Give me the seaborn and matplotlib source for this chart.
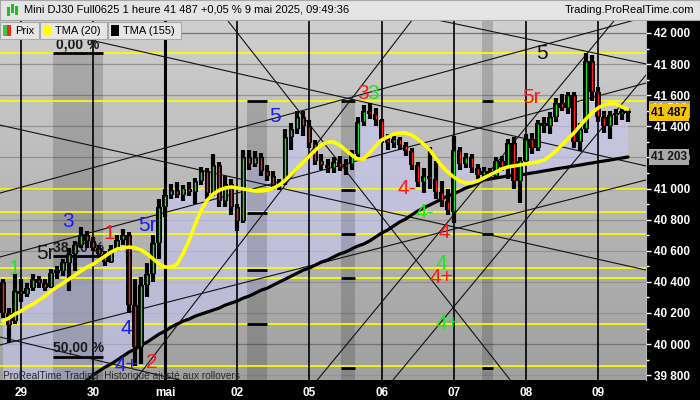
import numpy as np
import matplotlib
matplotlib.use("Agg")
import matplotlib.pyplot as plt
from matplotlib.patches import Rectangle
from matplotlib.colors import LinearSegmentedColormap
from matplotlib.transforms import blended_transform_factory
import seaborn as sns

# 2-hour bars, bar 0 = start of 29 April
bars = list(range(-3, 102))
opens = [40400, 40200, 40150, 40340, 40320, 40360, 40420, 40390, 40370, 40460,
         40470, 40520, 40580, 40640, 40700, 40660, 40620, 40580, 40530, 40610,
         40670, 40700, 40250, 39980, 40380, 40450, 40650, 40880, 40960, 40990,
         40960, 41000, 40980, 41050, 41110, 40970, 41150, 40920, 41030, 40880,
         40790, 41200, 41160, 41200, 41110, 41080, 41020, 41040, 41330, 41380,
         41460, 41400, 41290, 41180, 41150, 41130, 41170, 41140, 41160, 41220,
         41430, 41500, 41480, 41440, 41320, 41290, 41320, 41280, 41240, 41150,
         41040, 41080, 41060, 40980, 40920, 40850, 41250, 41160, 41200, 41130,
         41090, 41110, 41080, 41180, 41140, 41290, 41050, 41180, 41320, 41260,
         41420, 41400, 41460, 41550, 41520, 41600, 41300, 41380, 41820, 41620,
         41460, 41400, 41470, 41480, 41500]
highs = [40420, 40230, 40450, 40420, 40390, 40450, 40440, 40420, 40480, 40500,
         40550, 40620, 40660, 40750, 40730, 40690, 40640, 40600, 40640, 40700,
         40740, 40720, 40420, 40430, 40520, 40700, 40930, 41000, 41030, 41040,
         41020, 41040, 41070, 41140, 41130, 41220, 41170, 41080, 41060, 40900,
         41250, 41250, 41240, 41230, 41150, 41110, 41060, 41380, 41420, 41500,
         41500, 41440, 41310, 41220, 41190, 41200, 41210, 41190, 41250, 41460,
         41540, 41550, 41520, 41450, 41350, 41340, 41330, 41300, 41260, 41170,
         41130, 41270, 41180, 41050, 41000, 41340, 41270, 41230, 41220, 41160,
         41140, 41130, 41200, 41210, 41320, 41330, 41200, 41350, 41360, 41440,
         41460, 41490, 41580, 41610, 41620, 41620, 41420, 41870, 41860, 41650,
         41500, 41500, 41510, 41520, 41520]
lows = [40170, 40010, 40130, 40270, 40300, 40340, 40360, 40340, 40360, 40420,
        40440, 40340, 40470, 40620, 40620, 40600, 40560, 40500, 40520, 40600,
        40640, 40200, 39860, 39870, 40300, 40400, 40550, 40820, 40930, 40940,
        40920, 40950, 40900, 41020, 40930, 40950, 40880, 40880, 40830, 40730,
        40780, 41120, 41140, 41080, 41050, 40990, 40990, 41020, 41250, 41350,
        41340, 41260, 41150, 41120, 41100, 41100, 41110, 41090, 41120, 41190,
        41400, 41450, 41400, 41290, 41250, 41260, 41250, 41210, 41120, 41010,
        40970, 41000, 40930, 40880, 40830, 40780, 41120, 41130, 41100, 41060,
        41050, 41060, 41070, 41110, 41060, 41000, 40910, 41170, 41220, 41240,
        41360, 41350, 41430, 41500, 41480, 41260, 41240, 41360, 41560, 41430,
        41360, 41320, 41410, 41440, 41430]
closes = [40200, 40120, 40340, 40320, 40360, 40420, 40390, 40360, 40460, 40470,
          40530, 40580, 40640, 40700, 40660, 40620, 40580, 40530, 40610, 40670,
          40700, 40250, 39980, 40380, 40450, 40650, 40880, 40960, 40990, 40960,
          41000, 40980, 41050, 41110, 40970, 41150, 40920, 41030, 40880, 40790,
          41200, 41160, 41200, 41110, 41080, 41020, 41040, 41330, 41380, 41460,
          41400, 41290, 41180, 41150, 41130, 41170, 41140, 41160, 41220, 41430,
          41500, 41480, 41440, 41320, 41290, 41320, 41280, 41240, 41150, 41040,
          41080, 41060, 40980, 40920, 40860, 41250, 41160, 41200, 41130, 41090,
          41110, 41080, 41180, 41140, 41290, 41050, 41180, 41320, 41260, 41420,
          41400, 41460, 41550, 41520, 41600, 41300, 41380, 41820, 41620, 41460,
          41400, 41470, 41480, 41500, 41487]
tma20 = [40148, 40167, 40193, 40212, 40238, 40257, 40283, 40309, 40341, 40367,
         40392, 40418, 40444, 40470, 40495, 40514, 40540, 40566, 40592, 40611,
         40617, 40624, 40617, 40605, 40579, 40547, 40514, 40495, 40495, 40514,
         40585, 40669, 40772, 40862, 40926, 40965, 40990, 41003, 41010, 41003,
         40997, 40990, 40984, 40984, 40990, 41003, 41023, 41055, 41093, 41132,
         41171, 41209, 41248, 41280, 41299, 41299, 41280, 41248, 41216, 41190,
         41190, 41228, 41273, 41312, 41331, 41350, 41357, 41357, 41344, 41318,
         41286, 41248, 41196, 41145, 41106, 41074, 41048, 41036, 41036, 41048,
         41068, 41087, 41106, 41126, 41139, 41145, 41151, 41158, 41164, 41171,
         41183, 41209, 41241, 41280, 41318, 41357, 41402, 41447, 41486, 41518,
         41537, 41544, 41544, 41524, 41510]
tma155 = [39434, 39460, 39479, 39505, 39531, 39550, 39576, 39602, 39621, 39647,
          39672, 39692, 39717, 39743, 39769, 39801, 39827, 39852, 39872, 39897,
          39923, 39949, 39968, 39994, 40013, 40039, 40065, 40084, 40110, 40129,
          40148, 40161, 40180, 40193, 40206, 40219, 40232, 40251, 40264, 40277,
          40296, 40309, 40328, 40347, 40360, 40380, 40399, 40418, 40438, 40457,
          40476, 40489, 40508, 40528, 40540, 40560, 40579, 40592, 40611, 40630,
          40643, 40663, 40688, 40714, 40733, 40759, 40785, 40804, 40830, 40855,
          40875, 40894, 40913, 40933, 40952, 40965, 40984, 41003, 41016, 41035,
          41055, 41061, 41068, 41074, 41081, 41087, 41087, 41093, 41100, 41106,
          41113, 41119, 41126, 41132, 41138, 41145, 41151, 41158, 41164, 41171,
          41177, 41183, 41190, 41196, 41203]

day_bars = [0, 12, 24, 36, 48, 60, 72, 84, 96]
day_labels = ["29", "30", "mai", "02", "05", "06", "07", "08", "09"]
price_ticks = list(range(39800, 42001, 200))

support_levels = [41870, 41560, 41000, 40850, 40710, 40490, 40425, 40130, 39860]

# time zones: start bar, end bar, top price, and level marks inside each
zone_start = [5.3, 37.6, 53.2, 76.7]
zone_end = [13.6, 40.9, 55.6, 78.5]
zone_top = [41871, 41563, 41563, 42077]
zone_marks = [[41871, 40566, 39917],
              [41563, 40843, 40476, 40129],
              [41563, 40990, 40707, 40424, 39846],
              [41563, 40707, 39846]]

# drawn trend lines: bar_a, price_a, bar_b, price_b
trend_lines = [
    (34.3, 42084, 81.4, 39769),
    (11.5, 41955, 104.0, 41145),
    (-3.5, 41408, 104.0, 40476),
    (-3.5, 40971, 104.0, 42103),
    (19.0, 39769, 65.1, 42084),
    (49.3, 39769, 98.8, 42084),
    (61.9, 39769, 104.0, 41730),
    (69.2, 42084, 104.0, 41801),
    (-3.5, 40560, 104.0, 41678),
    (-3.5, 40045, 29.8, 39737),
    (-3.5, 39994, 104.0, 41055),
]

# wave labels
wave_text = ["1", "5r", "3", "1", "5r", "4", "4+", "2", "5", "3", "3",
             "4-", "4-", "4", "4", "4+", "4+", "5r", "5"]
wave_bar = [-1.2, 4.0, 7.8, 14.6, 21.0, 17.5, 17.6, 21.8, 42.3, 56.9, 58.6,
            64.2, 67.1, 70.5, 70.0, 69.9, 71.0, 85.0, 86.7]
wave_price = [40489, 40580, 40785, 40708, 40765, 40097, 39865, 39884, 41466,
              41608, 41608, 40997, 40849, 40720, 40515, 40431, 40135, 41582, 41871]
GREEN, RED, BLUE, BLACK = "#22e622", "#ff1a1a", "#1a1aff", "#141414"
wave_color = [GREEN, BLACK, BLUE, RED, BLUE, BLUE, BLUE, RED, BLUE, RED, GREEN,
              RED, GREEN, RED, GREEN, RED, GREEN, RED, BLACK]

sns.set_style("white")
plt.rcParams["font.family"] = ["Liberation Sans", "DejaVu Sans"]

fig = plt.figure(figsize=(7, 4), dpi=100)
fig.patch.set_facecolor("black")
ax = fig.add_axes([0, 20 / 400, 646 / 700, 359 / 400])

x0, x1 = -3.5, 104.0
y0, y1 = 39769, 42077

# background gradient
bg = LinearSegmentedColormap.from_list("bg", ["#cfcfcf", "#a0a0a0"])
ax.imshow(np.linspace(0, 1, 256).reshape(-1, 1), cmap=bg, aspect="auto",
          extent=(x0, x1, y0, y1), origin="upper", zorder=0)

for p in price_ticks:
    dark = p % 1000 == 0
    ax.axhline(p, color="#727272" if dark else "#939393", lw=0.9, zorder=1)

xb = np.array(bars)
o, h, l, c = map(np.array, (opens, highs, lows, closes))
t155 = np.array(tma155)

ax.fill_between(xb, c, t155, where=c >= t155, interpolate=True,
                color="#c8c8f4", alpha=0.62, lw=0, zorder=2)

for s, e, top in zip(zone_start, zone_end, zone_top):
    ax.add_patch(Rectangle((s, y0), e - s, top - y0, facecolor="black",
                           alpha=0.16, lw=0, zorder=3))

for lvl in support_levels:
    ax.axhline(lvl, color="#ffff00", lw=1.2, zorder=4)

for d, lab in zip(day_bars, day_labels):
    ax.axvline(d, color="black", lw=2.2 if lab == "mai" else 1.2, zorder=4)

for s, e, marks in zip(zone_start, zone_end, zone_marks):
    ax.hlines(marks, s, e, color="black", lw=2, zorder=5)

for xa, ya, xe, ye in trend_lines:
    ax.plot([xa, xe], [ya, ye], color="#111111", lw=0.8, zorder=5)

ax.text(9.5, 41923, "0,00 %", fontsize=10, fontweight="bold", color="#1a1a1a",
        ha="center", va="center", zorder=6)
ax.text(9.5, 39975, "50,00 %", fontsize=10, fontweight="bold", color="#1a1a1a",
        ha="center", va="center", zorder=6)
ax.text(9.5, 40620, "38,20 %", fontsize=10, fontweight="bold", color="#1a1a1a",
        ha="center", va="center", zorder=6)

sns.lineplot(x=bars, y=tma155, ax=ax, color="black", lw=2.3, zorder=6, legend=False)

# candles: black body and wick with a thin coloured core
ax.vlines(xb, l, h, color="black", lw=3.0, zorder=7)
body_lo = np.minimum(o, c)
body_h = np.maximum(np.abs(c - o), 14)
ax.bar(xb, body_h, bottom=body_lo, width=0.92, color="black", edgecolor="black",
       linewidth=0, zorder=7)
up = c >= o
ax.vlines(xb[up], o[up] + 6, c[up] - 6, color="#22dd22", lw=1.0, zorder=7.5)
ax.vlines(xb[~up], c[~up] + 6, o[~up] - 6, color="#ff2020", lw=1.0, zorder=7.5)

sns.lineplot(x=bars, y=tma20, ax=ax, color="#ffff00", lw=2.6, zorder=8, legend=False)

for t, xv, yv, col in zip(wave_text, wave_bar, wave_price, wave_color):
    ax.text(xv, yv, t, fontsize=15, color=col, ha="center", va="center", zorder=9)

ax.text(3 / 646, 4 / 359, "ProRealTime Trading  Historique ajusté aux rollovers",
        transform=ax.transAxes, fontsize=7.3, color="#2a2a2a", va="center", zorder=9)

ax.set_xlim(x0, x1)
ax.set_ylim(y0, y1)

ax.yaxis.tick_right()
ax.set_yticks(price_ticks)
ax.set_yticklabels([f"{p:,}".replace(",", " ") for p in price_ticks], fontweight="bold")
ax.set_yticks(list(range(39800, 42001, 100)), minor=True)
ax.tick_params(axis="y", which="major", colors="white", labelsize=8.5, length=3.5,
               width=1, pad=2)
ax.tick_params(axis="y", which="minor", colors="white", length=2, width=1)
ax.set_xticks(day_bars)
ax.set_xticklabels(day_labels, fontweight="bold")
ax.tick_params(axis="x", colors="white", labelsize=8.5, length=2.5, width=1, pad=2.5)
ax.grid(False)
for side, sp in ax.spines.items():
    sp.set_visible(side == "right")
ax.spines["right"].set_color("#b8b8b8")

# price tags on the right scale
tr = blended_transform_factory(ax.transAxes, ax.transData)
tags = [(41510, "#ffff40", "#a3a3a3"), (41487, "black", "#f5c400"),
        (41203, "#151515", "#a8a8a8")]
for val, fg, bgc in tags:
    ax.text(1 + 5 / 646, val, f"{val:,}".replace(",", " "), transform=tr, color=fg,
            fontsize=8.5, fontweight="bold", ha="left", va="center", clip_on=False,
            zorder=10, bbox=dict(boxstyle="square,pad=0.2", facecolor=bgc, edgecolor="none"))


def fx(px):
    return px / 700


def fy(py):
    return 1 - py / 400


# title bar
fig.patches.append(Rectangle((0, fy(20)), 1, 20 / 400, transform=fig.transFigure,
                             facecolor="#e4e4e4", edgecolor="#a8a8a8", lw=0.8, zorder=1))
for px, top, bot in [(7, 7, 16), (11, 4, 13), (15, 6, 15)]:
    fig.patches.append(Rectangle((fx(px), fy(bot)), 2.5 / 700, (bot - top) / 400,
                                 transform=fig.transFigure, facecolor="#22bb22",
                                 edgecolor="none", zorder=2))
fig.text(fx(24), fy(10), "Mini DJ30 Full0625 1 heure 41 487 +0,05 % 9 mai 2025, 09:49:36",
         fontsize=8, color="black", va="center", ha="left")
fig.text(fx(694), fy(10), "Trading.ProRealTime.com", fontsize=8, color="black",
         va="center", ha="right")

# legend boxes
legend_items = [("Prix", 0, 39), ("TMA (20)", 40, 107), ("TMA (155)", 108, 181)]
for (label, a, b), sw in zip(legend_items, [None, "#ffff00", "black"]):
    fig.patches.append(Rectangle((fx(a), fy(39)), (b - a) / 700, 17 / 400,
                                 transform=fig.transFigure, facecolor="#e6e6e6",
                                 edgecolor="#a8a8a8", lw=0.8, zorder=2))
    if sw is None:
        fig.patches.append(Rectangle((fx(a + 3), fy(36)), 4 / 700, 11 / 400,
                                     transform=fig.transFigure, facecolor="#33cc33",
                                     edgecolor="none", zorder=3))
        fig.patches.append(Rectangle((fx(a + 7), fy(36)), 4 / 700, 11 / 400,
                                     transform=fig.transFigure, facecolor="#ff2222",
                                     edgecolor="none", zorder=3))
    else:
        fig.patches.append(Rectangle((fx(a + 3), fy(36)), 8 / 700, 11 / 400,
                                     transform=fig.transFigure, facecolor=sw,
                                     edgecolor="none", zorder=3))
    fig.text(fx(a + 15), fy(30.5), label, fontsize=8, color="black",
             va="center", ha="left", zorder=4)

fig.savefig("out.png", dpi=100, facecolor=fig.get_facecolor())
